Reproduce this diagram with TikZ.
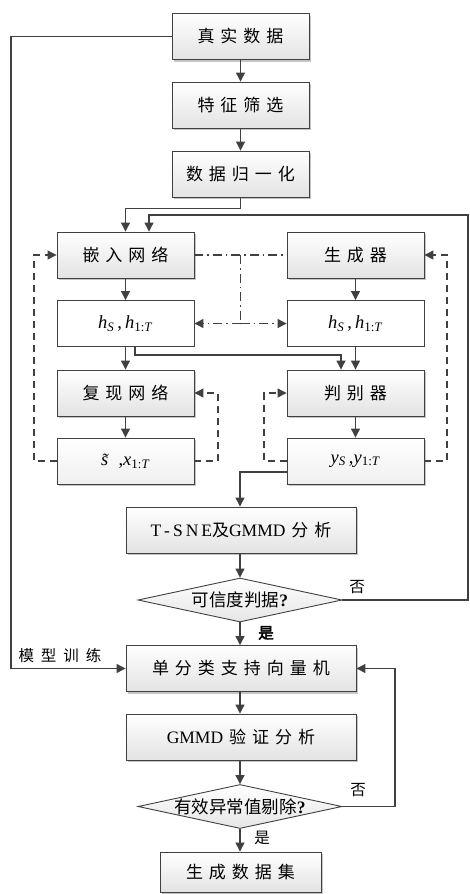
\documentclass[tikz,border=0pt]{standalone}
\usepackage{fontspec}
\setmainfont{Liberation Serif}
\newfontfamily\cjk{Noto Sans CJK SC}
\newfontfamily\cjkb[FakeBold=3]{Noto Sans CJK SC}
\usetikzlibrary{shapes.geometric,shadows,arrows.meta}
\newcommand\gp{\hspace{6pt}}
\newcommand\mt[1]{{\rmfamily\fontsize{17.5}{19}\selectfont #1}}
\newcommand\mi[1]{{\rmfamily\fontsize{18.5}{20}\selectfont #1}}
\definecolor{ln}{HTML}{404040}
\tikzset{
  box/.style={draw=ln, line width=0.9pt, rectangle, minimum width=137pt, minimum height=46pt,
    inner sep=0pt, top color=white, bottom color=black!11,
    drop shadow={shadow xshift=2pt, shadow yshift=-2pt, fill=black!45, opacity=0.5},
    font=\cjk\fontsize{17}{19}\selectfont},
  hbox/.style={draw=ln, line width=0.9pt, rectangle, minimum width=137pt, minimum height=46pt,
    inner sep=0pt, fill=white, font=\cjk\fontsize{17}{19}\selectfont},
  sbox/.style={box, bottom color=black!6},
  dia/.style={diamond, draw=ln, line width=0.9pt, minimum width=204pt, minimum height=44pt,
    inner sep=0pt, top color=white, bottom color=black!10, font=\cjk\fontsize{17.5}{19}\selectfont},
  lbl/.style={inner sep=0pt, font=\cjk\fontsize{15.5}{17}\selectfont},
  tip/.style={-{Triangle[length=9pt,width=9pt]}},
  arr/.style={line width=1.1pt, draw=ln, tip},
  dsh/.style={line width=1.1pt, draw=ln, dash pattern=on 7pt off 5pt},
  dd/.style={line width=1.1pt, draw=ln, dash pattern=on 9pt off 4pt on 1.5pt off 4pt},
}
\begin{document}
\begin{tikzpicture}[x=1pt, y=-1pt]
\useasboundingbox (0,0) rectangle (469,894);
\fill[white] (0,0) rectangle (469,894);

\node[box] (real) at (240.5,36.5) {真\gp{}实\gp{}数\gp{}据};
\node[box] (feat) at (240.5,105) {特\gp{}征\gp{}筛\gp{}选};
\node[box] (norm) at (240.5,174) {数\gp{}据\gp{}归\gp{}一\gp{}化};
\node[box] (embed) at (125.5,255) {嵌\gp{}入\gp{}网\gp{}络};
\node[box] (gen) at (355.5,255) {生\gp{}成\gp{}器};
\node[hbox] (h1) at (125.5,323.5) {\mi{\textit{h}\textsubscript{\textit{S}}\,,\,\textit{h}\textsubscript{1:\textit{T}}}};
\node[hbox] (h2) at (355.5,323.5) {\mi{\textit{h}\textsubscript{\textit{S}}\,,\,\textit{h}\textsubscript{1:\textit{T}}}};
\node[box] (rec) at (125.5,393) {复\gp{}现\gp{}网\gp{}络};
\node[box] (disc) at (355.5,393) {判\gp{}别\gp{}器};
\node[sbox] (s) at (125.5,461) {\mi{\textit{\~{s}}\,,\textit{x}\textsubscript{1:\textit{T}}}};
\node[sbox] (yy) at (355.5,461) {\mi{\textit{y}\textsubscript{\textit{S}}\,,\textit{y}\textsubscript{1:\textit{T}}}};
\node[box, minimum width=230pt] (tsne) at (241,530) {\mt{T\hspace{3pt}-\hspace{3pt}S\hspace{3pt}N\hspace{3pt}E}及\mt{GMMD}\gp{}分\gp{}析};
\node[dia] (d1) at (240,600) {\makebox[0pt]{可信度判据\textbf{\rmfamily ?}}};
\node[box, minimum width=230pt] (svm) at (241,668.5) {单\gp{}分\gp{}类\gp{}支\gp{}持\gp{}向\gp{}量\gp{}机};
\node[box, minimum width=230pt] (gmmd) at (241,737) {\mt{GMMD}\gp{}验\gp{}证\gp{}分\gp{}析};
\node[dia] (d2) at (240,806.5) {\makebox[0pt]{有效异常值剔除\textbf{\rmfamily ?}}};
\node[box, minimum width=161pt, minimum height=40pt] (out) at (240.5,872) {生\gp{}成\gp{}数\gp{}据\gp{}集};

\node[lbl] (no1) at (357,587) {否};
\node[lbl, font=\cjkb\fontsize{15.5}{17}\selectfont] (yes1) at (266,633) {是};
\node[lbl] (no2) at (358,790) {否};
\node[lbl] (yes2) at (262,838) {是};
\node[lbl] (train) at (60,656) {模\hspace{7pt}型\hspace{7pt}训\hspace{7pt}练};

% main flow
\draw[arr] (real) -- (feat);
\draw[arr] (feat) -- (norm);
\draw[arr] (norm.south) -- ++(0,11) -| (embed.north);
\coordinate (lt) at (11,36.5);
\coordinate (lb) at (11,668.5);
\draw[arr] (real.west) -- (lt) -- (lb) -- (svm.west);
\coordinate (r1) at (468,600);
\coordinate (r2) at (468,215);
\draw[arr] (d1.east) -- (r1) -- (r2) -| ([xshift=23.5pt]embed.north);

\draw[arr] (embed) -- (h1);
\draw[arr] (gen) -- (h2);
\draw[arr] (h1.south) -- (rec.north);
\draw[arr] ([xshift=9.5pt]h1.south) -- ++(0,8) -| ([xshift=-14.5pt]disc.north);
\draw[arr] (h2) -- (disc);
\draw[arr] (rec) -- (s);
\draw[arr] (disc) -- (yy);
\draw[arr] ([yshift=-11pt]yy.west) -| (tsne.north -| d1.north);
\draw[arr] (tsne.south -| d1.north) -- (d1.north);
\draw[arr] (d1.south) -- (d1.south |- svm.north);
\draw[arr] (svm.south -| d1.south) -- (gmmd.north -| d1.south);
\draw[arr] (gmmd.south -| d2.north) -- (d2.north);
\draw[arr] (d2.south) -- (d2.south |- out.north);
\coordinate (q1) at (395,806.5);
\coordinate (q2) at (395,668.5);
\draw[arr] (d2.east) -- (q1) -- (q2) -- (svm.east);

% dashed loops
\coordinate (a1) at (34,461);
\coordinate (a2) at (34,255);
\draw[dsh, tip] (s.west) -- (a1) -- (a2) -- (embed.west);
\coordinate (b1) at (218,461);
\coordinate (b2) at (218,393);
\draw[dsh, tip] (s.east) -- (b1) -- (b2) -- (rec.east);
\coordinate (c1) at (264,461);
\coordinate (c2) at (264,393);
\draw[dsh, tip] (yy.west) -- (c1) -- (c2) -- (disc.west);
\coordinate (e1) at (447,461);
\coordinate (e2) at (447,255);
\draw[dsh, tip] (yy.east) -- (e1) -- (e2) -- (gen.east);

% dash-dot links
\draw[dd] (embed.east) -- (gen.west);
\coordinate (m1) at (240.5,255);
\coordinate (m2) at (240.5,323.5);
\draw[dd] (m1) -- (m2);
\draw[dd, tip] (m2) -- (h1.east);
\draw[dd, tip] (m2) -- (h2.west);
\end{tikzpicture}
\end{document}
